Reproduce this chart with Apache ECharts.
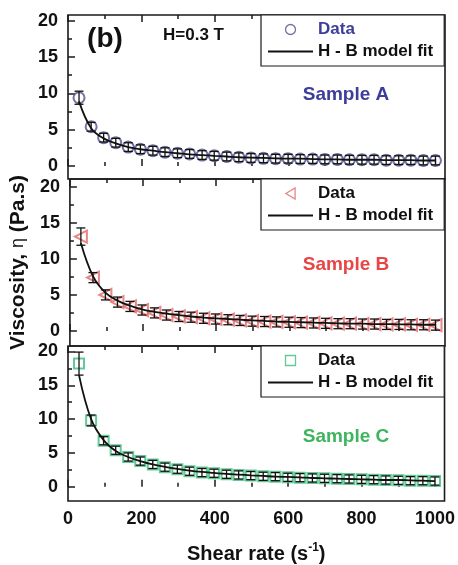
<!DOCTYPE html>
<html>
<head>
<meta charset="utf-8">
<script src="https://cdn.jsdelivr.net/npm/echarts@6/dist/echarts.min.js"></script>
<style>
html,body{margin:0;padding:0;background:#fff;}
#chart{width:458px;height:565px;}
</style>
</head>
<body>
<div id="chart"></div>
<script>
// ---- data ----
const shearRate = [30, 63, 97, 130, 164, 197, 231, 264, 298, 331, 365, 398, 432, 465, 498, 532, 565, 599, 632, 666, 699, 733, 766, 800, 833, 866, 900, 933, 967, 1000];

const dataA = [9.4, 5.4, 3.9, 3.2, 2.6, 2.3, 2.1, 1.9, 1.75, 1.65, 1.5, 1.4, 1.3, 1.2, 1.1, 1.05, 1.0, 1.0, 0.95, 0.95, 0.9, 0.9, 0.85, 0.85, 0.85, 0.8, 0.8, 0.8, 0.75, 0.75];
const fitA  = [8.9, 5.2, 3.8, 3.1, 2.6, 2.3, 2.1, 1.9, 1.75, 1.6, 1.5, 1.4, 1.3, 1.2, 1.15, 1.1, 1.05, 1.0, 1.0, 0.95, 0.9, 0.9, 0.85, 0.85, 0.85, 0.8, 0.8, 0.8, 0.75, 0.75];
const errA  = [0.9, 0.6, 0.6, 0.6, 0.6, 0.6, 0.6, 0.6, 0.6, 0.6, 0.6, 0.6, 0.6, 0.6, 0.6, 0.6, 0.6, 0.6, 0.6, 0.6, 0.6, 0.6, 0.6, 0.6, 0.6, 0.6, 0.6, 0.6, 0.6, 0.6];

const dataB = [13.1, 7.4, 5.0, 4.0, 3.4, 2.9, 2.5, 2.2, 2.0, 1.9, 1.75, 1.65, 1.55, 1.45, 1.35, 1.3, 1.25, 1.2, 1.15, 1.1, 1.05, 1.0, 1.0, 0.95, 0.95, 0.9, 0.9, 0.85, 0.85, 0.8];
const fitB  = [12.2, 7.6, 5.3, 4.2, 3.5, 3.0, 2.65, 2.4, 2.2, 2.0, 1.85, 1.75, 1.65, 1.55, 1.45, 1.4, 1.3, 1.25, 1.2, 1.15, 1.1, 1.05, 1.0, 1.0, 0.95, 0.95, 0.9, 0.9, 0.85, 0.85];
const errB  = [1.2, 0.7, 0.7, 0.7, 0.7, 0.7, 0.7, 0.7, 0.7, 0.7, 0.7, 0.7, 0.7, 0.7, 0.7, 0.7, 0.7, 0.7, 0.7, 0.7, 0.7, 0.7, 0.7, 0.7, 0.7, 0.7, 0.7, 0.7, 0.7, 0.7];

const dataC = [18.2, 9.8, 6.8, 5.4, 4.4, 3.8, 3.3, 2.9, 2.6, 2.3, 2.1, 2.0, 1.85, 1.75, 1.65, 1.55, 1.5, 1.4, 1.35, 1.3, 1.25, 1.2, 1.15, 1.1, 1.05, 1.0, 0.95, 0.9, 0.9, 0.85];
const fitC  = [16.5, 10.0, 6.9, 5.3, 4.4, 3.8, 3.3, 2.95, 2.65, 2.4, 2.2, 2.05, 1.9, 1.8, 1.7, 1.6, 1.5, 1.45, 1.4, 1.3, 1.25, 1.2, 1.15, 1.1, 1.05, 1.0, 1.0, 0.95, 0.9, 0.85];
const errC  = [1.7, 0.8, 0.6, 0.6, 0.6, 0.6, 0.6, 0.6, 0.6, 0.6, 0.6, 0.6, 0.6, 0.6, 0.6, 0.6, 0.6, 0.6, 0.6, 0.6, 0.6, 0.6, 0.6, 0.6, 0.6, 0.6, 0.6, 0.6, 0.6, 0.6];

const xTickLabels = [0, 200, 400, 600, 800, 1000];
const xMinorTicks = [100, 300, 500, 700, 900];
const yTickLabels = [0, 5, 10, 15, 20];
const yMinorTicks = [2.5, 7.5, 12.5, 17.5];

const sampleNames = ['Sample A', 'Sample B', 'Sample C'];
const legendData = 'Data';
const legendFit = 'H - B model fit';

// ---- styling ----
const FONT = 'Liberation Sans, Arial, sans-serif';
const AX = '#1a1a1a';
const panels = [
  {top: 15, height: 164, ymin: -1.8, ymax: 20.8, data: dataA, fit: fitA, err: errA,
   symbol: 'emptyCircle', rotate: 0, icon: 'circle', mcolor: '#4f4f8c', tcolor: '#3d3d9b', dataTextColor: '#3d3d9b', size: 11, lsize: 10},
  {top: 179, height: 167, ymin: -2.1, ymax: 21.1, data: dataB, fit: fitB, err: errB,
   symbol: 'emptyTriangle', rotate: 90, icon: 'path://M0,6L10,0L10,12Z', mcolor: '#e06868', tcolor: '#e84545', dataTextColor: '#111', size: 12, lsize: 11},
  {top: 346, height: 166, ymin: -2.1, ymax: 20.8, data: dataC, fit: fitC, err: errC,
   symbol: 'emptyRect', rotate: 0, icon: 'path://M0,0H10V10H0Z', mcolor: '#3cbb7c', tcolor: '#3fb45e', dataTextColor: '#111', size: 10, lsize: 10}
];

const grids = [], xAxes = [], yAxes = [], series = [], legends = [], graphics = [];

function errRender(params, api) {
  const x = api.value(0), lo = api.value(1), hi = api.value(2);
  const p1 = api.coord([x, hi]), p2 = api.coord([x, lo]);
  const w = 4.5;
  const st = {stroke: '#111', lineWidth: 1.3};
  return {type: 'group', children: [
    {type: 'line', shape: {x1: p1[0], y1: p1[1], x2: p2[0], y2: p2[1]}, style: st},
    {type: 'line', shape: {x1: p1[0] - w, y1: p1[1], x2: p1[0] + w, y2: p1[1]}, style: st},
    {type: 'line', shape: {x1: p2[0] - w, y1: p2[1], x2: p2[0] + w, y2: p2[1]}, style: st}
  ]};
}

panels.forEach((p, i) => {
  const isLast = i === panels.length - 1;
  grids.push({left: 68, right: 13, top: p.top, height: p.height, show: true,
    borderColor: AX, borderWidth: 1.6, backgroundColor: 'transparent'});
  const xBase = {type: 'value', gridIndex: i, min: 0, max: 1026,
    axisLine: {show: false}, splitLine: {show: false}};
  const xi = xAxes.length;
  xAxes.push(Object.assign({}, xBase, {position: 'bottom',
    axisTick: {inside: true, length: 7, customValues: xTickLabels, lineStyle: {color: AX, width: 1.5}},
    axisLabel: {show: isLast, customValues: xTickLabels, margin: 9, formatter: v => String(v),
      fontFamily: FONT, fontWeight: 'bold', fontSize: 18, color: '#111'},
    name: isLast ? '{b|Shear rate (s}{sup|-1}{b|)}' : '',
    nameLocation: 'middle', nameGap: 41,
    nameTextStyle: {rich: {
      b: {fontFamily: FONT, fontWeight: 'bold', fontSize: 20, color: '#111', lineHeight: 24},
      sup: {fontFamily: FONT, fontWeight: 'bold', fontSize: 12, color: '#111', padding: [0, 0, 12, 0]}
    }}
  }));
  xAxes.push(Object.assign({}, xBase, {position: 'bottom',
    axisTick: {inside: true, length: 4, customValues: xMinorTicks, lineStyle: {color: AX, width: 1.5}},
    axisLabel: {show: false}}));
  xAxes.push(Object.assign({}, xBase, {position: 'top',
    axisTick: {inside: true, length: 7, customValues: xTickLabels, lineStyle: {color: AX, width: 1.5}},
    axisLabel: {show: false}}));
  xAxes.push(Object.assign({}, xBase, {position: 'top',
    axisTick: {inside: true, length: 4, customValues: xMinorTicks, lineStyle: {color: AX, width: 1.5}},
    axisLabel: {show: false}}));

  const yBase = {type: 'value', gridIndex: i, min: p.ymin, max: p.ymax, position: 'left',
    axisLine: {show: false}, splitLine: {show: false}};
  const yi = yAxes.length;
  yAxes.push(Object.assign({}, yBase, {
    axisTick: {inside: true, length: 7, customValues: yTickLabels, lineStyle: {color: AX, width: 1.5}},
    axisLabel: {customValues: yTickLabels, margin: 10,
      fontFamily: FONT, fontWeight: 'bold', fontSize: 18, color: '#111'},
    name: i === 1 ? '{b|Viscosity, }{g|η}{b| (Pa.s)}' : '',
    nameLocation: 'middle', nameGap: 31, nameRotate: 90,
    nameTextStyle: {rich: {
      b: {fontFamily: FONT, fontWeight: 'bold', fontSize: 21, color: '#111'},
      g: {fontFamily: FONT, fontWeight: 'normal', fontSize: 18, color: '#111'}
    }}
  }));
  yAxes.push(Object.assign({}, yBase, {
    axisTick: {inside: true, length: 4, customValues: yMinorTicks, lineStyle: {color: AX, width: 1.5}},
    axisLabel: {show: false}}));

  const nData = 'data' + i, nFit = 'fit' + i;
  series.push({
    name: nData, type: 'scatter', xAxisIndex: xi, yAxisIndex: yi,
    symbol: p.symbol, symbolSize: p.size, symbolRotate: p.rotate,
    itemStyle: {color: p.mcolor, borderColor: p.mcolor, borderWidth: 1.3},
    data: shearRate.map((x, k) => [x, p.data[k]]), z: 2
  });
  series.push({
    name: nData + 'err', type: 'custom', xAxisIndex: xi, yAxisIndex: yi,
    renderItem: errRender, encode: {x: 0, y: [1, 2]},
    data: shearRate.map((x, k) => [x, p.data[k] - p.err[k], p.data[k] + p.err[k]]), z: 3
  });
  series.push({
    name: nFit, type: 'line', xAxisIndex: xi, yAxisIndex: yi, smooth: 0.4,
    symbol: 'none', showSymbol: false, lineStyle: {color: '#111', width: 1.8}, itemStyle: {color: '#111'},
    data: shearRate.map((x, k) => [x, p.fit[k]]), z: 4
  });

  legends.push({
    left: 261, top: p.top, orient: 'vertical', itemWidth: 45, itemHeight: p.lsize, itemGap: 5,
    padding: [6, 11, 6, 7], borderColor: AX, borderWidth: 1.2, backgroundColor: '#fff',
    selectedMode: false, symbolRotate: 0, symbolKeepAspect: true,
    data: [
      {name: nData, icon: p.icon,
       itemStyle: {color: '#fff', borderColor: p.mcolor, borderWidth: 1.3},
       textStyle: {color: p.dataTextColor}},
      {name: nFit, icon: 'path://M0,0H45V1.8H0Z'}
    ],
    formatter: n => n.indexOf('fit') === 0 ? legendFit : legendData,
    textStyle: {fontFamily: FONT, fontWeight: 'bold', fontSize: 17, color: '#111'}
  });

  graphics.push({type: 'text', x: 346, y: p.top + [80, 86, 91][i], z: 10,
    style: {text: sampleNames[i], fill: p.tcolor, font: 'bold 19px ' + FONT,
      textAlign: 'center', textVerticalAlign: 'middle'}});
});

graphics.push({type: 'text', x: 105, y: 39, z: 10,
  style: {text: '(b)', fill: '#111', font: 'bold 28px ' + FONT, textAlign: 'center', textVerticalAlign: 'middle'}});
graphics.push({type: 'text', x: 163, y: 35, z: 10,
  style: {text: 'H=0.3 T', fill: '#111', font: 'bold 17px ' + FONT, textAlign: 'left', textVerticalAlign: 'middle'}});

const chart = echarts.init(document.getElementById('chart'), null, {renderer: 'canvas'});
chart.setOption({
  animation: false,
  backgroundColor: '#fff',
  grid: grids, xAxis: xAxes, yAxis: yAxes, series: series, legend: legends, graphic: graphics
});
</script>
</body>
</html>
